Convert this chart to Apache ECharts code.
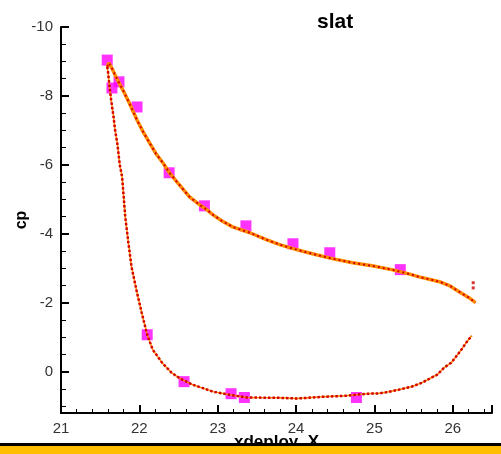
<!DOCTYPE html>
<html>
<head>
<meta charset="utf-8">
<script src="https://cdn.jsdelivr.net/npm/echarts@6/dist/echarts.min.js"></script>
<style>html,body{margin:0;padding:0;background:#fff}#c{width:501px;height:454px}</style>
</head>
<body>
<div id="c"></div>
<script>
// Upper surface (CFD), [xdeploy_X, cp]
var upperSurface = [[21.59,-8.85],[21.61,-8.96],[21.65,-8.80],[21.69,-8.61],[21.74,-8.38],[21.79,-8.17],[21.87,-7.80],[21.97,-7.30],[22.05,-6.95],[22.13,-6.64],[22.21,-6.33],[22.30,-6.06],[22.39,-5.75],[22.50,-5.45],[22.64,-5.07],[22.77,-4.84],[22.86,-4.70],[22.94,-4.55],[23.05,-4.38],[23.19,-4.20],[23.41,-4.03],[23.62,-3.83],[23.80,-3.68],[23.96,-3.57],[24.12,-3.47],[24.26,-3.39],[24.46,-3.28],[24.72,-3.16],[24.97,-3.07],[25.22,-2.96],[25.45,-2.83],[25.57,-2.75],[25.83,-2.61],[25.97,-2.48],[26.08,-2.32],[26.21,-2.14],[26.29,-2.00]];
// Lower surface (CFD)
var lowerSurface = [[21.59,-8.85],[21.60,-8.70],[21.62,-8.26],[21.64,-7.88],[21.67,-7.40],[21.69,-7.01],[21.72,-6.60],[21.75,-6.00],[21.78,-5.65],[21.82,-4.49],[21.86,-3.74],[21.90,-3.04],[21.97,-2.29],[22.03,-1.71],[22.10,-1.07],[22.17,-0.64],[22.29,-0.26],[22.41,0.03],[22.52,0.20],[22.68,0.38],[22.80,0.47],[22.94,0.58],[23.15,0.67],[23.37,0.75],[23.79,0.76],[24.01,0.78],[24.34,0.73],[24.64,0.70],[24.90,0.64],[25.06,0.63],[25.15,0.60],[25.32,0.52],[25.48,0.43],[25.61,0.32],[25.73,0.17],[25.80,0.09],[25.89,-0.12],[25.98,-0.26],[26.04,-0.43],[26.11,-0.64],[26.17,-0.84],[26.24,-1.04]];
// Isolated trailing-edge points
var teDots = [[26.26,-2.58],[26.26,-2.43]];
// Experimental data
var experiment = [[21.59,-9.04],[21.65,-8.23],[21.74,-8.41],[21.97,-7.68],[22.38,-5.77],[22.83,-4.81],[23.36,-4.23],[23.96,-3.71],[24.43,-3.45],[25.33,-2.96],[22.10,-1.07],[22.57,0.29],[23.17,0.64],[23.34,0.75],[24.77,0.75]];
var xTicks = {min:21, max:26.5, interval:1};
var yTicks = {min:-10, max:1.2, interval:2};

var chart = echarts.init(document.getElementById('c'), null, {renderer:'canvas'});
var labelFont = {fontFamily:'Liberation Sans, Arial, sans-serif', fontSize:15, color:'#333'};
chart.setOption({
  animation:false,
  backgroundColor:'#fff',
  title:{text:'slat', left:312, top:7, textStyle:{fontFamily:'Liberation Sans, Arial, sans-serif', fontSize:21, fontWeight:'bold', color:'#000'}},
  grid:{left:61, right:9, top:27, bottom:41, containLabel:false, outerBoundsMode:'none'},
  xAxis:{type:'value', min:xTicks.min, max:xTicks.max, interval:xTicks.interval,
    name:'xdeploy_X', nameLocation:'middle', nameGap:21, nameMoveOverlap:false,
    nameTextStyle:{fontFamily:'Liberation Sans, Arial, sans-serif', fontSize:17, fontWeight:'bold', color:'#000', verticalAlign:'top'},
    axisLine:{show:true, onZero:false, lineStyle:{color:'#000', width:2}},
    axisTick:{show:true, inside:true, length:8, lineStyle:{color:'#000', width:2}},
    minorTick:{show:true, splitNumber:5, length:4, lineStyle:{color:'#000', width:1}},
    axisLabel:Object.assign({margin:8, showMaxLabel:false}, labelFont),
    splitLine:{show:false}},
  yAxis:{type:'value', inverse:true, min:yTicks.min, max:yTicks.max, interval:yTicks.interval,
    name:'cp', nameLocation:'middle', nameGap:31, nameMoveOverlap:false,
    nameTextStyle:{fontFamily:'Liberation Sans, Arial, sans-serif', fontSize:16, fontWeight:'bold', color:'#000'},
    axisLine:{show:true, onZero:false, lineStyle:{color:'#000', width:2}},
    axisTick:{show:true, inside:true, length:8, lineStyle:{color:'#000', width:2}},
    minorTick:{show:true, splitNumber:4, length:5, lineStyle:{color:'#000', width:1}},
    axisLabel:Object.assign({margin:8, showMaxLabel:false}, labelFont),
    splitLine:{show:false}},
  series:[
    {type:'scatter', data:experiment, symbol:'rect', symbolSize:11, itemStyle:{color:'#ff00ff'}, z:2},
    {type:'line', data:upperSurface, showSymbol:false, symbol:'none', lineStyle:{color:'#ff8c00', width:3.5}, z:3},
    {type:'line', data:upperSurface, showSymbol:false, symbol:'none', lineStyle:{color:'#d40000', width:2, type:[2,3]}, z:4},
    {type:'line', data:lowerSurface, showSymbol:false, symbol:'none', lineStyle:{color:'#ff8c00', width:1.5}, z:3},
    {type:'line', data:lowerSurface, showSymbol:false, symbol:'none', lineStyle:{color:'#d40000', width:2.5, type:[2.5,2]}, z:4},
    {type:'scatter', data:teDots, symbol:'rect', symbolSize:3, itemStyle:{color:'#d40000'}, z:4}
  ],
  graphic:[
    {type:'rect', shape:{x:0, y:443, width:501, height:3}, style:{fill:'#000'}, z:100},
    {type:'rect', shape:{x:0, y:446, width:501, height:8}, style:{fill:'#ffbf00'}, z:100}
  ]
});
</script>
</body>
</html>
